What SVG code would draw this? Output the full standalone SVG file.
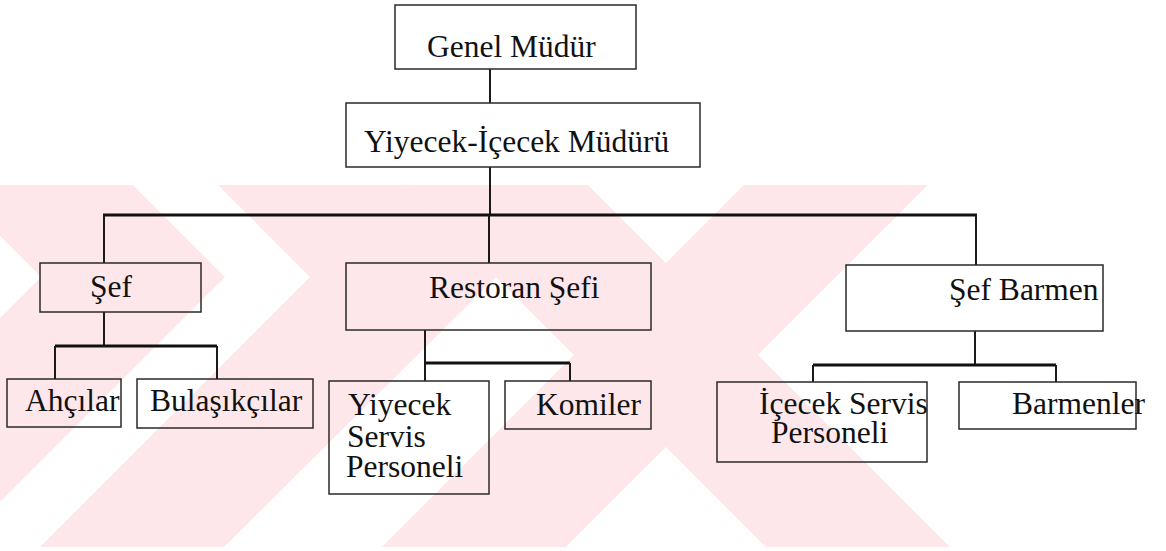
<svg xmlns="http://www.w3.org/2000/svg" width="1166" height="551" viewBox="0 0 1166 551">
  <style>
    .box { fill: none; stroke: #2a2a2a; stroke-width: 1.5; }
    .lbl { font-family: "Liberation Serif", "Times New Roman", serif; font-size: 31.5px; fill: #111; }
    .wire { fill: none; stroke: #1a1a1a; stroke-width: 2; }
    .bar { fill: none; stroke: #111; stroke-width: 3; }
    .wm { fill: #fde7eb; }
  </style>
  <defs>
    <clipPath id="wm-area">
      <rect x="0" y="185" width="1166" height="362"/>
    </clipPath>
  </defs>
  <rect width="1166" height="551" fill="#ffffff"/>

  <!-- pale striped watermark behind the chart -->
  <g id="watermark" clip-path="url(#wm-area)">
    <!-- crossing bands -->
    <polygon class="wm" points="404,185 588,185 951,548 767,548"/>
    <polygon class="wm" points="744,185 928,185 565,548 381,548"/>
    <!-- chevrons on the left -->
    <polygon class="wm" points="218,185 404,185 496,277 310,277"/>
    <polygon class="wm" points="310,277 496,277 223,548 39,548"/>
    <polygon class="wm" points="-51,185 133,185 225,277 41,277"/>
    <polygon class="wm" points="41,277 225,277 -46,548 -230,548"/>
  </g>

  <!-- connectors -->
  <g id="connectors">
    <line class="wire" x1="490" y1="69" x2="490" y2="103"/>
    <line class="wire" x1="490" y1="167" x2="490" y2="215"/>
    <line class="bar" x1="103" y1="215" x2="977" y2="215"/>
    <line class="wire" x1="104" y1="215" x2="104" y2="263"/>
    <line class="wire" x1="489" y1="215" x2="489" y2="263"/>
    <line class="wire" x1="976" y1="215" x2="976" y2="265"/>
    <!-- Şef branch -->
    <line class="wire" x1="104" y1="312" x2="104" y2="346"/>
    <line class="bar" x1="55" y1="346" x2="217" y2="346"/>
    <line class="wire" x1="55" y1="346" x2="55" y2="379"/>
    <line class="wire" x1="217" y1="346" x2="217" y2="379"/>
    <!-- Restoran Şefi branch -->
    <line class="wire" x1="425" y1="330" x2="425" y2="381"/>
    <line class="bar" x1="425" y1="363" x2="570" y2="363"/>
    <line class="wire" x1="570" y1="363" x2="570" y2="381"/>
    <!-- Şef Barmen branch -->
    <line class="wire" x1="975" y1="331" x2="975" y2="365"/>
    <line class="bar" x1="813" y1="365" x2="1056" y2="365"/>
    <line class="wire" x1="813" y1="365" x2="813" y2="382"/>
    <line class="wire" x1="1056" y1="365" x2="1056" y2="382"/>
  </g>

  <g id="genel-mudur">
    <rect class="box" x="395" y="5" width="241" height="64"/>
    <text class="lbl" x="427" y="57">Genel Müdür</text>
  </g>
  <g id="yiyecek-icecek-muduru">
    <rect class="box" x="346" y="103" width="354" height="64"/>
    <text class="lbl" x="364" y="152">Yiyecek-İçecek Müdürü</text>
  </g>
  <g id="sef">
    <rect class="box" x="40" y="263" width="161" height="49"/>
    <text class="lbl" x="90" y="297">Şef</text>
  </g>
  <g id="restoran-sefi">
    <rect class="box" x="346" y="263" width="305" height="67"/>
    <text class="lbl" x="429" y="298">Restoran Şefi</text>
  </g>
  <g id="sef-barmen">
    <rect class="box" x="846" y="265" width="257" height="66"/>
    <text class="lbl" x="949" y="300">Şef Barmen</text>
  </g>
  <g id="ahcilar">
    <rect class="box" x="7" y="379" width="114" height="48"/>
    <text class="lbl" x="25" y="411">Ahçılar</text>
  </g>
  <g id="bulasikcilar">
    <rect class="box" x="137" y="379" width="176" height="49"/>
    <text class="lbl" x="150" y="411">Bulaşıkçılar</text>
  </g>
  <g id="yiyecek-servis-personeli">
    <rect class="box" x="329" y="381" width="160" height="113"/>
    <text class="lbl"><tspan x="348" y="415">Yiyecek</tspan><tspan x="347" y="447">Servis</tspan><tspan x="346" y="477">Personeli</tspan></text>
  </g>
  <g id="komiler">
    <rect class="box" x="505" y="381" width="146" height="48"/>
    <text class="lbl" x="536" y="415">Komiler</text>
  </g>
  <g id="icecek-servis-personeli">
    <rect class="box" x="717" y="382" width="210" height="80"/>
    <text class="lbl"><tspan x="759" y="414">İçecek Servis</tspan><tspan x="771" y="443">Personeli</tspan></text>
  </g>
  <g id="barmenler">
    <rect class="box" x="959" y="382" width="177" height="47"/>
    <text class="lbl" x="1012" y="414">Barmenler</text>
  </g>
</svg>
